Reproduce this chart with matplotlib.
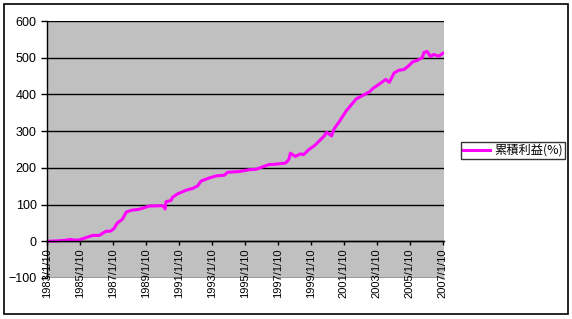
import matplotlib
matplotlib.use("Agg")
import matplotlib.pyplot as plt
from matplotlib.patches import Rectangle

# decimal years and cumulative profit (%)
years = [1983.03, 1983.6, 1984.2, 1984.4, 1984.8, 1985.0, 1985.4, 1985.8, 1986.2, 1986.6,
         1986.9, 1987.1, 1987.3, 1987.6, 1987.85, 1988.2, 1988.6, 1989.24, 1990.05, 1990.2,
         1990.25, 1990.55, 1990.65, 1990.95, 1991.47, 1991.87, 1992.17, 1992.38, 1992.78, 1993.28,
         1993.79, 1993.99, 1994.7, 1995.3, 1995.7, 1996.2, 1996.5, 1996.9, 1997.5, 1997.7,
         1997.8, 1998.1, 1998.4, 1998.6, 1998.9, 1999.3, 1999.85, 2000.0, 2000.3, 2000.45,
         2000.75, 2001.2, 2001.8, 2002.6, 2002.8, 2003.28, 2003.59, 2003.8, 2004.1, 2004.4,
         2004.7, 2005.0, 2005.2, 2005.5, 2005.8, 2005.9, 2006.1, 2006.3, 2006.5, 2006.8,
         2007.05]
values = [0, 1, 3, 5, 3, 4, 10, 16, 16, 27,
          28, 35, 50, 60, 80, 85, 87, 96, 97, 88,
          108, 111, 120, 129, 139, 144, 151, 164, 171, 178,
          180, 188, 190, 195, 196, 204, 209, 210, 213, 222,
          240, 231, 238, 236, 249, 262, 287, 297, 287, 306,
          325, 356, 388, 407, 416, 431, 441, 433, 459, 466,
          468, 479, 488, 493, 500, 514, 517, 503, 509, 504,
          512]
tick_years = [1983, 1985, 1987, 1989, 1991, 1993, 1995, 1997, 1999, 2001, 2003, 2005, 2007]
tick_labels = [f"{y}/1/10" for y in tick_years]
y_ticks = [-100, 0, 100, 200, 300, 400, 500, 600]
series_name = "累積利益(%)"

plt.rcParams['font.family'] = ['Liberation Sans', 'DejaVu Sans']

fig = plt.figure(figsize=(5.72, 3.19), dpi=100)
fig.patches.append(Rectangle((4/572, 1-314/319), 564/572, 310/319, transform=fig.transFigure,
                             fill=False, edgecolor='black', linewidth=1.2))

ax = fig.add_axes([47/572, 1-278/319, 397/572, 257/319])
ax.set_facecolor('#c0c0c0')
ax.plot(years, values, color='#ff00ff', linewidth=2.2, label=series_name)

for s in ['top', 'right']:
    ax.spines[s].set_visible(False)
ax.spines['bottom'].set_position(('data', 0))
ax.spines['bottom'].set_linewidth(1)
ax.spines['left'].set_linewidth(1)

ax.set_ylim(-100, 600)
ax.set_yticks(y_ticks)
ax.set_xlim(1983.03, 2007.12)
ax.set_xticks([y + 0.03 for y in tick_years])
ax.set_xticklabels(tick_labels)
for lab in ax.get_xticklabels():
    lab.set_rotation(90)
    lab.set_fontsize(8)
    lab.set_verticalalignment('top')
    lab.set_horizontalalignment('center')
ax.tick_params(axis='y', labelsize=9, length=4, width=1, color='black')
ax.tick_params(axis='x', length=3, width=1, color='black', pad=2, labelrotation=90)

ax.grid(axis='y', color='black', linewidth=1)
ax.set_axisbelow(True)

leg = fig.legend(loc='center left', bbox_to_anchor=(461/572, 1-150.5/319),
                 frameon=True, fancybox=False, borderpad=0.2, handlelength=2.2,
                 handletextpad=0.3, borderaxespad=0,
                 prop={'family': ['Noto Sans CJK JP', 'DejaVu Sans'], 'size': 8.8})
leg.get_frame().set_edgecolor('black')
leg.get_frame().set_linewidth(1)

fig.savefig('out.png', dpi=100)
